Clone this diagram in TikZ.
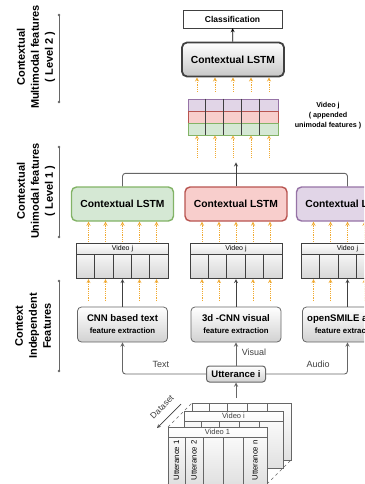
\documentclass[tikz,border=0pt]{standalone}
\usepackage{fontspec}
\setmainfont{Liberation Sans}
\usetikzlibrary{calc, arrows.meta, positioning}
\definecolor{lineGray}{gray}{0.4}
\definecolor{darkGray}{gray}{0.25}
\definecolor{dotOrange}{RGB}{240,170,50}
\definecolor{txtGreen}{HTML}{D5E8D4}
\definecolor{txtGreenLine}{HTML}{82B366}
\definecolor{visRed}{HTML}{F8CECC}
\definecolor{visRedLine}{HTML}{B85450}
\definecolor{audPurple}{HTML}{E1D5E7}
\definecolor{audPurpleLine}{HTML}{9673A6}
\newcommand{\featmain}{\fontsize{9.6}{11}\bfseries}
\newcommand{\featsub}{\fontsize{7.8}{10}\bfseries}

\tikzset{
  sidelabel/.style={rotate=90, align=center, font=\fontsize{11}{14}\bfseries},
  lstmbox/.style={draw, rounded corners=5pt, line width=1.4pt, minimum width=102pt, minimum height=34pt, inner sep=0pt, font=\fontsize{10.3}{12}\bfseries},
  greybox/.style={draw=lineGray, line width=0.8pt, rounded corners=4pt, top color=white, bottom color=black!18, inner sep=0pt},
  rowcell/.style={draw, line width=0.6pt, minimum width=90pt, minimum height=12pt, inner sep=0pt},
  gridhead/.style={draw=darkGray, line width=0.7pt, top color=white, bottom color=black!10, minimum width=92pt, minimum height=11pt, inner sep=0pt, font=\fontsize{7}{8}\selectfont},
  gridcell/.style={draw=darkGray, line width=0.7pt, top color=black!4, bottom color=black!16, minimum width=92pt, minimum height=24pt, inner sep=0pt},
  featflow/.style={->, draw=dotOrange, densely dotted, line width=0.8pt},
  conn/.style={draw=lineGray, line width=0.9pt, rounded corners=3pt},
  flowlabel/.style={font=\fontsize{9}{11}\selectfont, text=darkGray},
  uttlabel/.style={rotate=90, anchor=east, inner sep=1pt, font=\fontsize{7.8}{9}\selectfont}
}

\begin{document}
\begin{tikzpicture}[x=1pt, y=-1pt, >=stealth]
    \useasboundingbox (0,0) rectangle (364,484);
    \clip (0,0) rectangle (364,484);

    % levels on the left
    \node[sidelabel] (lvlTwo) at (36,57) {Contextual\\Multimodal features\\( Level 2 )};
    \node[sidelabel] (lvlOne) at (36,191) {Contextual\\Unimodal features\\( Level 1 )};
    \node[sidelabel] (lvlZero) at (33,326) {Context\\Independent\\Features};
    \foreach \ya/\yb in {15/102, 147/237, 281/371} {
        \draw[lineGray, line width=0.8pt] (59,\ya) -- (59,\yb);
        \fill[lineGray] (59,\ya) circle (1.3pt) (59,\yb) circle (1.3pt);
    }

    % level 2
    \node[draw=darkGray, fill=white, minimum width=99pt, minimum height=18pt, inner sep=0pt, font=\fontsize{8.5}{10}\bfseries] (cls) at (232.5,19) {Classification};
    \node[lstmbox, draw=darkGray, line width=1.8pt, top color=white, bottom color=black!22] (lstmM) at (233,59.5) {Contextual LSTM};
    \draw[->, line width=0.8pt] (lstmM) -- (cls);

    \node[rowcell, fill=audPurple, draw=audPurpleLine] (rowA) at (233,105) {};
    \node[rowcell, fill=visRed, draw=visRedLine] (rowV) at (233,117) {};
    \node[rowcell, fill=txtGreen, draw=txtGreenLine] (rowT) at (233,129) {};
    \foreach \i in {1,...,4}
        \draw[darkGray, line width=1.1pt] ($(rowA.north west)+(18*\i,0)$) -- ($(rowT.south west)+(18*\i,0)$);
    \foreach \d in {-36,-18,0,18,36} {
        \draw[featflow] ($(rowA.north)+(\d,-7)$) -- ($(lstmM.south)+(\d,0)$);
        \draw[featflow] ($(rowT.south)+(\d,22)$) -- ($(rowT.south)+(\d,0)$);
    }
    \node[font=\fontsize{7.2}{10}\bfseries, align=center] (appLabel) at (328,116) {Video j\\( appended\\unimodal features )};

    % level 1
    \node[lstmbox, fill=txtGreen, draw=txtGreenLine] (lstmT) at (122.5,204) {Contextual LSTM};
    \node[lstmbox, fill=visRed, draw=visRedLine] (lstmV) at (236,204) {Contextual LSTM};
    \node[lstmbox, fill=audPurple, draw=audPurpleLine] (lstmA) at (347.5,204) {Contextual LSTM};
    \coordinate (stackIn) at ($(lstmV.north)+(0,-24)$);
    \draw[conn] (lstmT.north) -- ++(0,-13) -| (lstmA.north);
    \draw[conn, ->, draw=darkGray] (lstmV.north) -- (stackIn);

    \foreach \m/\x in {T/122.5, V/236, A/347.5} {
        \node[gridhead] (head\m) at (\x,248.5) {Video j};
        \node[gridcell, below=0pt of head\m] (cell\m) {};
        \foreach \i in {1,...,4}
            \draw[darkGray, line width=0.7pt] ($(cell\m.north west)+(18.4*\i,0)$) -- ($(cell\m.south west)+(18.4*\i,0)$);
        \foreach \d in {-34,-17,0,17,34}
            \draw[featflow] ($(head\m.north)+(\d,-1)$) -- ($(lstm\m.south)+(\d,0)$);
        \foreach \d in {-34,-17,17,34}
            \draw[featflow] ($(cell\m.south)+(\d,22)$) -- ($(cell\m.south)+(\d,0)$);
    }

    % context independent features
    \node[greybox, minimum width=90pt, minimum height=35pt, align=center] (featT) at (122.5,324.5) {{\featmain CNN based text}\\{\featsub feature extraction}};
    \node[greybox, minimum width=90pt, minimum height=35pt, align=center] (featV) at (236,324.5) {{\featmain 3d -CNN visual}\\{\featsub feature extraction}};
    \node[greybox, minimum width=90pt, minimum height=35pt, align=center] (featA) at (347.5,324.5) {{\featmain openSMILE audio}\\{\featsub feature extraction}};
    \foreach \m in {T,V,A}
        \draw[->, line width=0.8pt, darkGray] (feat\m) -- (cell\m);

    \node[greybox, rounded corners=3pt, line width=1pt, minimum width=59pt, minimum height=16pt, font=\fontsize{9.5}{11}\bfseries] (utt) at (236,374) {Utterance i};
    \draw[conn, ->] (utt.west) -| node[flowlabel, pos=0.27, above=3pt] {Text} (featT.south);
    \draw[conn, ->] (utt.north) -- node[flowlabel, pos=0.58, right=2pt] {Visual} (featV.south);
    \draw[conn, ->] (utt.east) -| node[flowlabel, pos=0.32, above=3pt] {Audio} (featA.south);

    % dataset
    \coordinate (dsTop) at (236,398);
    \draw[conn, ->] (dsTop) -- (utt.south);
    \foreach \a/\b in {168/427, 267/427, 267/484, 168/484}
        \draw[lineGray, dashed, line width=0.5pt] (\a,\b) -- ++(24,-24);
    \foreach \o/\vid/\hy in {24//427, 16/Video i/437, 0/Video 1/437} {
        \begin{scope}[shift={(\o,-\o)}]
            \path[draw=lineGray, line width=0.7pt, top color=white, bottom color=black!12] (168,427) rectangle (267,484);
            \draw[lineGray, line width=0.7pt] (168,\hy) -- (267,\hy);
            \foreach \c in {185,203,223,243} \draw[lineGray, line width=0.7pt] (\c,\hy) -- (\c,484);
            \node[font=\fontsize{7.5}{9}\selectfont, text=darkGray] (sheet\o) at (217.5,432) {\vid};
        \end{scope}
    }
    \node[uttlabel] (uttOne) at (176.5,439) {Utterance 1};
    \node[uttlabel] (uttTwo) at (194,439) {Utterance 2};
    \node[uttlabel] (uttN) at (255,439) {Utterance n};

    \node[rotate=45, inner sep=1pt, font=\fontsize{8.5}{10}\selectfont, text=darkGray] (dsLabel) at (162,407) {Dataset};
    \coordinate (dsFrom) at (181,404);
    \coordinate (dsTo) at (157,428);
    \draw[->, darkGray, line width=0.7pt] (dsFrom) -- (dsTo);
\end{tikzpicture}
\end{document}
